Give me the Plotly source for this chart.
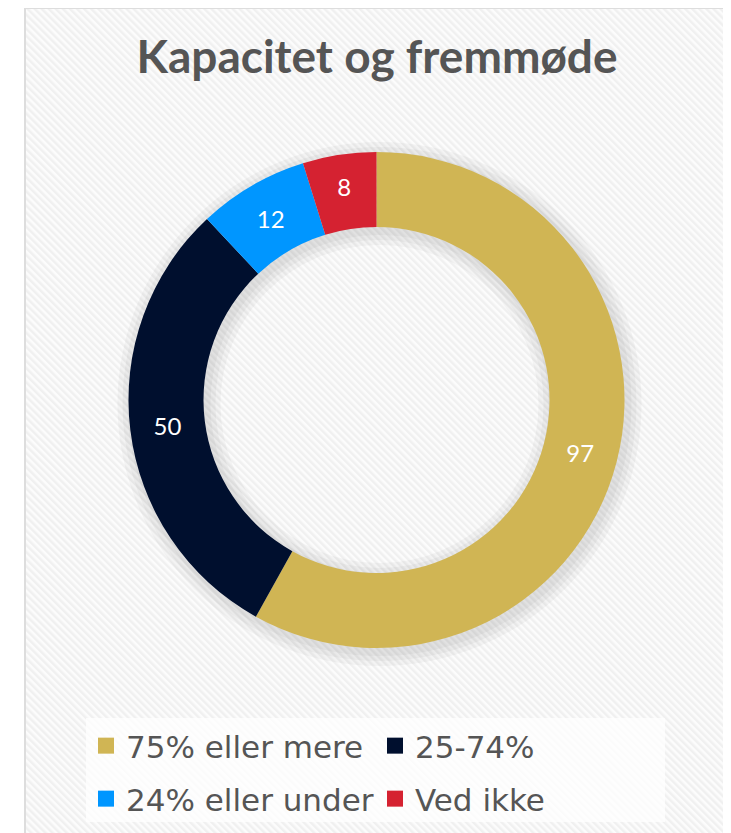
import base64
import plotly.graph_objects as go

categories = ["75% eller mere", "25-74%", "24% eller under", "Ved ikke"]
values = [97, 50, 12, 8]
colors = ["#D0B554", "#000F2E", "#0096FF", "#D52231"]
title_text = "Kapacitet og fremmøde"

W, H = 731, 833
OFF = 8  # browser body margin

def px(x):
    return (x - OFF) / W

def py(y):
    return 1 - (y - OFF) / H

BX0, BX1, BY0 = 25, 726, 8

svg = (
    '<svg xmlns="http://www.w3.org/2000/svg" width="701" height="830">'
    '<defs><pattern id="p" patternUnits="userSpaceOnUse" width="5" height="5" '
    'patternTransform="rotate(-45)">'
    '<rect width="5" height="5" fill="#fcfcfc"/>'
    '<rect width="2.5" height="5" fill="#f0f0f0"/></pattern></defs>'
    '<rect width="701" height="830" fill="url(#p)"/></svg>'
)
src = "data:image/svg+xml;base64," + base64.b64encode(svg.encode()).decode()

cx, cy, R, r = 376.5, 400, 248, 173

fig = go.Figure()

# soft shadow rings behind the donut
for d in [14, 9, 4]:
    Ro, Ri = R + d, r - d
    fig.add_trace(go.Pie(
        values=[sum(values)],
        marker=dict(colors=["rgba(0,0,0,0.035)"], line=dict(width=0)),
        hole=Ri / Ro,
        textinfo="none",
        hoverinfo="skip",
        showlegend=False,
        sort=False,
        domain=dict(x=[px(cx - Ro + 3), px(cx + Ro + 3)],
                    y=[py(cy + Ro + 4), py(cy - Ro + 4)]),
    ))

fig.add_trace(go.Pie(
    labels=categories,
    values=values,
    marker=dict(colors=colors, line=dict(width=0)),
    hole=r / R,
    sort=False,
    direction="clockwise",
    rotation=0,
    textinfo="value",
    textposition="inside",
    insidetextorientation="horizontal",
    textfont=dict(family="Lato, sans-serif", size=24, color="white"),
    domain=dict(x=[px(cx - R), px(cx + R)], y=[py(cy + R), py(cy - R)]),
    showlegend=False,
))

# legend entries (square swatches), two rows -> two legends
for i, (name, col) in enumerate(zip(categories, colors)):
    fig.add_trace(go.Scatter(
        x=[None], y=[None], mode="markers", name=name,
        marker=dict(symbol="square", size=18, color=col),
        showlegend=True,
        legend="legend" if i < 2 else "legend2",
    ))

leg_common = dict(
    orientation="h",
    xanchor="left",
    yanchor="top",
    bgcolor="rgba(0,0,0,0)",
    font=dict(family="DejaVu Sans, sans-serif", size=31, color="#555555"),
    entrywidth=244,
    entrywidthmode="pixels",
    itemsizing="trace",
    traceorder="normal",
)

fig.update_layout(
    width=W, height=H,
    margin=dict(l=0, r=0, t=0, b=0),
    paper_bgcolor="white",
    plot_bgcolor="rgba(0,0,0,0)",
    xaxis=dict(visible=False),
    yaxis=dict(visible=False),
    title=dict(
        text="<b>" + title_text + "</b>",
        x=px(377), xanchor="center",
        y=py(57), yanchor="middle",
        font=dict(family="Lato, sans-serif", size=46, color="#555555"),
    ),
    legend=dict(leg_common, x=px(86), y=py(719)),
    legend2=dict(leg_common, x=px(86), y=py(772)),
    images=[dict(
        source=src, xref="paper", yref="paper",
        x=px(BX0), y=py(BY0), sizex=(BX1 - BX0) / W, sizey=830 / H,
        xanchor="left", yanchor="top", sizing="stretch", layer="below",
    )],
    shapes=[
        dict(
            type="rect", xref="paper", yref="paper",
            x0=px(BX0), x1=px(BX1), y0=-0.01, y1=py(BY0),
            line=dict(color="#dddddd", width=2), fillcolor="rgba(0,0,0,0)",
            layer="below",
        ),
        dict(
            type="rect", xref="paper", yref="paper",
            x0=px(86), x1=px(665), y0=py(822), y1=py(718),
            line=dict(width=0), fillcolor="rgba(255,255,255,0.75)",
            layer="below",
        ),
    ],
)

fig.write_html("out.html")
